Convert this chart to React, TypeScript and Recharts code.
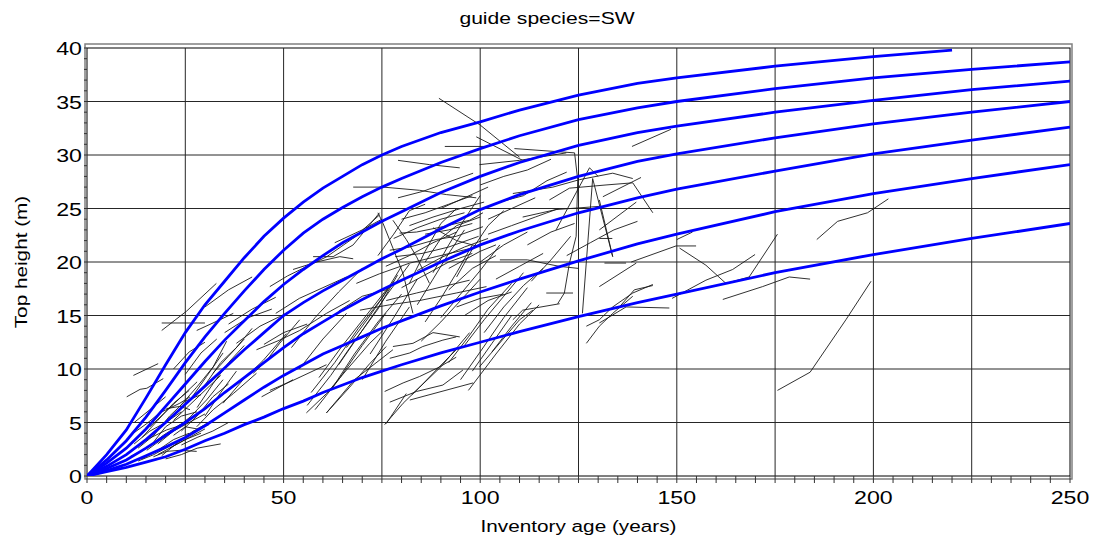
import React from "react";
import { LineChart, Line, XAxis, YAxis, ReferenceLine, ReferenceArea } from "recharts";

// guide curve ages (years)
const curveAges = [0, 5, 10, 15, 20, 25, 30, 35, 40, 45, 50, 55, 60, 65, 70, 75, 80, 90, 100, 110, 125, 140, 150, 175, 200, 225, 250];
const topCurveAges = [0, 5, 10, 15, 20, 25, 30, 35, 40, 45, 50, 55, 60, 65, 70, 75, 80, 90, 100, 110, 125, 140, 150, 175, 200, 220];

// guide curve heights (m), highest site first
const site1 = [0, 2.0, 4.3, 7.3, 10.4, 13.4, 16.0, 18.2, 20.4, 22.4, 24.1, 25.6, 26.9, 28.0, 29.1, 30.0, 30.8, 32.1, 33.1, 34.2, 35.6, 36.7, 37.2, 38.3, 39.2, 39.8];
const site2 = [0, 1.5, 3.3, 5.5, 8.0, 10.6, 13.0, 15.2, 17.3, 19.3, 21.1, 22.7, 24.0, 25.1, 26.1, 27.0, 27.8, 29.3, 30.6, 31.8, 33.3, 34.4, 35.0, 36.2, 37.2, 38.0, 38.7];
const site3 = [0, 1.2, 2.6, 4.4, 6.5, 8.6, 10.7, 12.7, 14.5, 16.3, 17.9, 19.3, 20.6, 21.8, 22.8, 23.8, 24.7, 26.5, 28.0, 29.3, 30.9, 32.1, 32.7, 34.0, 35.1, 36.1, 36.9];
const site4 = [0, 0.9, 2.0, 3.4, 5.0, 6.7, 8.4, 10.1, 11.8, 13.4, 15.0, 16.2, 17.3, 18.3, 19.3, 20.3, 21.2, 23.1, 24.9, 26.3, 28.0, 29.4, 30.1, 31.6, 32.9, 34.0, 35.0];
const site5 = [0, 0.7, 1.5, 2.6, 3.8, 5.0, 6.3, 7.8, 9.2, 10.6, 12.0, 13.3, 14.4, 15.5, 16.5, 17.4, 18.3, 20.0, 21.6, 22.9, 24.6, 26.0, 26.8, 28.5, 30.1, 31.4, 32.6];
const site6 = [0, 0.5, 1.1, 1.9, 2.7, 3.6, 4.7, 5.9, 7.1, 8.3, 9.4, 10.4, 11.4, 12.2, 13.0, 13.8, 14.5, 15.9, 17.2, 18.4, 20.1, 21.7, 22.6, 24.7, 26.4, 27.8, 29.1];
const site7 = [0, 0.4, 0.8, 1.3, 1.8, 2.5, 3.3, 4.0, 4.8, 5.5, 6.3, 7.0, 7.8, 8.5, 9.2, 9.8, 10.4, 11.5, 12.5, 13.5, 14.9, 16.2, 17.0, 19.0, 20.7, 22.2, 23.6];

// remeasured plots: [age, top height]
const youngPlots = [
  [[10.9, 2.3], [15.2, 3.4], [20.2, 4.3], [25.3, 4.9]],
  [[10.9, 1.8], [15.2, 2.6], [19.4, 3.8], [23.6, 4.8]],
  [[11.8, 4.0], [15.2, 4.9], [18.5, 5.9], [23.6, 6.8], [26.2, 7.4]],
  [[20.2, 6.3], [23.6, 6.5], [26.2, 6.2]],
  [[15.2, 2.4], [21.1, 4.0], [26.2, 5.5], [30.4, 7.1], [34.6, 9.0]],
  [[26.2, 7.1], [30.4, 9.3], [34.6, 11.5]],
  [[23.6, 6.5], [27.9, 8.3], [32.1, 10.2], [35.5, 12.6]],
  [[16.9, 1.8], [20.2, 2.3], [23.6, 2.4], [27.9, 2.3]],
  [[12, 3.0], [16, 4.2], [20, 5.0], [24, 6.0]],
  [[14, 1.6], [18, 2.4], [22, 3.4], [26, 4.0]],
  [[17, 3.2], [20, 4.6], [24, 5.6], [28, 6.0]],
  [[18, 2.0], [22, 2.8], [26, 3.6], [30, 4.4]],
  [[20, 1.6], [24, 2.0], [28, 2.6], [34, 3.0]],
  [[22, 3.8], [25, 4.6], [28, 4.4], [32, 5.2]],
  [[13, 2.6], [17, 3.8], [21, 5.6], [25, 7.0], [29, 7.6]],
  [[10.1, 7.4], [13.5, 8.1], [15.2, 8.2], [19.4, 9.1]],
  [[11.8, 9.4], [18.1, 10.5]],
  [[19, 13.6], [25.3, 15.4], [32.9, 18.0]],
  [[19, 14.3], [30, 14.3]],
  [[27.9, 13.6], [33.8, 14.6], [37.2, 15.2]],
  [[27.9, 4.6], [32.1, 6.2], [37.2, 7.7], [43.1, 9.6]],
  [[34.6, 6.8], [39.7, 9.0], [44.8, 10.8], [50.7, 13.3]],
  [[38, 12.4], [44, 14.0], [49, 14.9], [52.4, 15.5]],
  [[44.4, 7.4], [52.4, 9.0]],
  [[42.3, 9.6], [45.7, 10.8], [49, 12.4], [54.1, 14.6]],
  [[30, 8.5], [34, 10.6], [38, 12.0], [42, 13.8]],
  [[25, 9.5], [29, 11.5], [33, 12.8]],
  [[22, 10.0], [26, 11.6], [30, 12.5]],
  [[24, 2.9], [28, 3.6], [32, 4.2], [36, 5.0]],
  [[12, 5.0], [16, 6.2], [20, 7.4]],
  [[14, 3.6], [18, 5.2], [22, 6.8], [26, 8.0]],
  [[16, 4.6], [20, 6.0], [24, 7.4], [28, 8.8]],
  [[18, 3.0], [22, 4.2], [26, 5.0], [30, 5.8]],
  [[19, 1.9], [23, 3.1], [27, 4.2], [31, 4.8]],
  [[21, 2.6], [25, 3.4], [29, 4.0]],
  [[13, 1.4], [17, 2.0], [21, 2.8]],
  [[22, 5.2], [26, 6.6], [30, 8.0], [34, 9.4]],
  [[24, 4.2], [28, 5.6], [32, 7.4], [36, 8.6]],
  [[28, 6.4], [32, 8.6], [36, 10.6], [40, 12.2]],
  [[30, 5.6], [34, 7.8], [38, 9.8]],
  [[32, 9.6], [36, 11.2], [40, 12.8]],
  [[30, 15.8], [36, 17.4], [42, 18.6]],
  [[35, 13.4], [41, 14.8], [47, 15.6]],
];

const midPlots = [
  [[46.5, 8.0], [51.6, 8.8], [60.9, 10.4]],
  [[43.1, 11.8], [49, 12.7], [54.1, 13.6], [60.9, 15.2], [66.8, 16.4]],
  [[52.4, 19.3], [58.4, 20.0], [64.3, 20.5], [67.7, 20.3]],
  [[57.5, 20.5], [62.6, 20.5], [67.7, 21.6], [74.4, 24.6]],
  [[46.5, 17.7], [51, 18.7], [56, 19.6], [61, 20.5], [68, 22.3], [74.4, 24.4]],
  [[74, 24.6], [75.3, 23.6], [77.8, 21.3], [80.4, 18.9], [82.9, 15.2]],
  [[55.8, 5.9], [60.9, 7.7], [66, 9.9], [71.9, 12.4], [75.3, 13.6]],
  [[60.9, 5.9], [66.8, 8.3], [71.9, 10.5], [76.1, 12.1]],
  [[56, 6.6], [62, 9.4], [68, 12.6], [74, 15.6], [79, 18.8]],
  [[57, 7.8], [63, 10.6], [69, 13.8], [75, 16.6], [80, 19.6]],
  [[59, 9.2], [65, 12.2], [71, 15.0], [77, 17.8]],
  [[60.9, 5.9], [68, 9.0], [77.8, 11.8]],
  [[76.1, 4.9], [81.2, 7.7]],
  [[48, 15.2], [54, 16.6], [60, 17.6], [66, 18.6]],
  [[45, 12.3], [50, 13.4], [56, 14.2]],
  [[36, 14.2], [42, 15.6], [48, 16.7]],
  [[64, 15.4], [70, 16.8], [76, 17.4]],
  [[68.5, 18.0], [74.4, 18.9]],
  [[63, 21.8], [70, 23.0], [75, 24.0]],
  [[67.7, 27.0], [75.3, 27.0], [84.6, 26.7], [91.4, 26.3], [99, 26.0]],
  [[79.5, 22.7], [83.8, 22.8], [90.5, 23.3], [97.3, 23.9], [100.7, 24.6]],
  [[77, 21.1], [82.1, 21.4], [88.8, 22.1], [93.9, 22.4], [100.7, 23.3]],
  [[78.4, 20.5], [85.2, 20.8], [92, 21.4], [99.6, 22.4]],
  [[74.4, 18.9], [82.1, 19.9], [88.8, 20.5], [99, 21.4]],
  [[76.1, 16.4], [83.8, 17.1], [90.5, 17.7], [97.3, 18.3]],
  [[69.4, 15.5], [77, 16.0], [84.6, 16.4], [93.9, 17.1], [101.6, 17.7]],
  [[75.7, 7.9], [80.4, 8.7], [84.6, 9.3], [89.7, 10.2], [93.9, 11.1]],
  [[77, 11.0], [82.1, 11.5], [85.4, 12.1], [90.5, 12.7], [93.9, 13.0]],
  [[77.8, 12.1], [82.9, 12.4], [88, 13.4], [94.8, 13.0]],
  [[82.1, 7.1], [98.2, 8.7]],
  [[77, 6.9], [83.8, 7.9], [90.5, 8.5], [95.6, 9.9]],
  [[75.7, 4.8], [80.4, 6.8], [84.6, 8.3], [88.8, 9.9], [93.9, 11.8]],
  [[79.1, 29.5], [87.1, 29.1], [94.8, 28.8]],
  [[79.1, 26.0], [85.4, 26.6], [91.4, 27.4], [98.2, 28.3]],
  [[89.5, 35.3], [100, 32.8], [110, 29.8]],
  [[91, 30.8], [102, 30.8]],
  [[77.8, 23.9], [81.2, 22.1], [83.8, 20.5], [87.1, 18.0]],
  [[80, 24.0], [86, 24.6], [92, 25.4], [98, 26.2]],
  [[82, 23.4], [88, 24.2], [95, 25.0], [101, 25.6]],
  [[84, 19.2], [90, 20.4], [96, 21.4], [102, 22.2]],
  [[86, 22.6], [92, 23.0], [98, 23.6]],
  [[88, 19.0], [92, 21.6], [96, 24.0], [100, 26.2]],
  [[90, 14.8], [95, 17.0], [100, 19.2], [105, 21.6]],
  [[85, 12.6], [90, 14.4], [95, 16.4], [100, 18.4]],
  [[92, 10.6], [97, 13.0], [102, 15.6], [108, 18.0]],
  [[95, 9.0], [100, 11.6], [106, 14.8], [112, 17.6]],
  [[99.8, 10.2], [110, 14.6], [113.4, 15.5]],
  [[82.6, 7.6], [90, 10.2], [97.3, 13.4]],
  [[96, 15.0], [102, 16.4], [108, 17.2]],
  [[74, 20.6], [78, 22.6], [82, 24.8], [86, 25.4]],
  [[86, 20.0], [90, 22.2], [94, 23.4], [100, 24.2]],
  [[92, 19.4], [96, 20.2], [100, 21.0], [104, 21.6]],
  [[94, 15.8], [100, 16.6], [106, 17.0]],
  [[58, 6.2], [64, 9.0], [70, 12.2], [76, 15.2]],
  [[62, 8.0], [68, 11.4], [74, 14.4], [80, 17.0]],
  [[64, 10.4], [70, 13.6], [76, 16.8], [82, 19.8]],
  [[66, 12.0], [72, 15.0], [78, 18.2]],
  [[52, 12.0], [58, 14.8], [64, 17.2], [70, 19.4]],
  [[54, 10.0], [60, 12.8], [66, 15.2]],
  [[70, 9.0], [76, 12.6], [82, 15.8]],
  [[72, 11.4], [78, 14.8], [84, 18.4]],
  [[76, 19.6], [82, 20.6], [88, 21.8], [94, 22.8]],
  [[78, 22.2], [84, 23.2], [90, 24.0], [96, 24.6]],
  [[80, 17.6], [86, 18.8], [92, 20.0], [98, 20.8]],
  [[82, 18.0], [86, 21.0], [90, 23.6], [94, 25.0]],
  [[84, 16.0], [88, 18.4], [92, 20.8], [96, 23.0]],
  [[86, 14.4], [90, 16.6], [94, 19.0], [98, 21.6]],
  [[88, 23.2], [94, 22.0], [100, 21.4]],
  [[90, 25.0], [96, 26.0], [102, 27.0]],
  [[92, 17.4], [98, 19.4], [104, 20.6]],
  [[94, 18.6], [98, 21.2], [102, 23.4], [106, 24.8]],
  [[96, 12.2], [101, 14.6], [106, 16.8], [111, 19.0]],
  [[98, 9.8], [103, 12.4], [108, 15.0]],
  [[97, 8.0], [104, 11.4], [110, 14.2], [115, 16.0]],
];

const oldPlots = [
  [[99, 31.7], [110.8, 29.5]],
  [[99.8, 29.1], [110, 29.5], [121.9, 30.2]],
  [[108.7, 30.6], [124, 30.2], [124.8, 27.7], [124.4, 22.4], [122.7, 19.9], [121.4, 17.1], [119.7, 16.1]],
  [[108.3, 14.6], [110.8, 15.5], [120.2, 16.1]],
  [[126, 15.2], [128.6, 27.8], [133.7, 20.5]],
  [[119.3, 23.0], [127.8, 28.8], [130, 28.0]],
  [[117.6, 25.8], [122.7, 26.9], [132, 27.2], [138.8, 27.4], [143.9, 24.6]],
  [[138.6, 30.8], [148.5, 32.4]],
  [[108.3, 26.4], [118.5, 27.0], [125.3, 27.7], [133.7, 28.3], [138.8, 27.8]],
  [[110.8, 24.2], [119.3, 24.9], [130.3, 25.2]],
  [[105, 20.2], [112, 20.2], [120, 19.6], [125, 19.4]],
  [[131.6, 19.9], [137.1, 19.9]],
  [[116.8, 17.1], [123.6, 17.1]],
  [[127, 14.0], [130.3, 14.6], [133.7, 15.8], [138.8, 17.1], [143.9, 17.9]],
  [[127, 12.4], [130.3, 14.0], [133.7, 15.2], [138.8, 16.8]],
  [[137.1, 15.8], [148.1, 15.7]],
  [[130.3, 14.3], [137.1, 15.8]],
  [[135.4, 15.8], [139.2, 17.4], [143.9, 17.8]],
  [[130.3, 17.7], [139.7, 19.9]],
  [[130.3, 23.0], [139.7, 25.6]],
  [[130.3, 22.2], [133.6, 22.2]],
  [[130.3, 25.8], [133.7, 20.5]],
  [[131.2, 26.1], [140.9, 27.9]],
  [[138.4, 20.0], [149.8, 21.5], [154.9, 21.5]],
  [[150, 22.1], [154, 22.8]],
  [[102, 22.6], [108, 23.4], [114, 24.2], [120, 25.0]],
  [[104, 18.4], [110, 19.6], [116, 20.8]],
  [[100, 27.2], [106, 28.0], [112, 28.6], [118, 29.6]],
  [[105, 25.6], [111, 26.2], [117, 27.6], [122, 28.4]],
  [[112, 21.6], [118, 22.8], [124, 23.6]],
  [[113, 18.2], [118, 20.2], [123, 22.4]],
  [[101, 13.4], [106, 15.8], [111, 17.8], [116, 19.4]],
  [[103, 11.6], [108, 14.0], [113, 16.2]],
  [[122, 20.6], [128, 21.8], [134, 23.0], [140, 23.8]],
  [[100, 20.0], [106, 21.6], [112, 22.8]],
  [[102, 24.0], [108, 25.0], [114, 26.0]],
  [[185.6, 22.1], [190.9, 23.8], [198.5, 24.6], [203.8, 25.9]],
  [[161.7, 16.5], [171.8, 17.7], [178.6, 18.6], [183.9, 18.4]],
  [[175.6, 8.0], [183.9, 9.7], [193, 14.6], [199.4, 18.2]],
  [[148.8, 16.6], [157.4, 18.3], [164.2, 19.3], [169.9, 20.7]],
  [[150.7, 21.3], [157.4, 19.7], [162.5, 18.0], [168.4, 18.6], [175.6, 22.6]],
];

const xTicks = Array.from({ length: 51 }, (_, i) => i * 5);
const yTicks = Array.from({ length: 41 }, (_, i) => i);
const xGrid = [25, 50, 75, 100, 125, 150, 175, 200, 225];
const yGrid = [5, 10, 15, 20, 25, 30, 35];

const FONT = "'Liberation Sans', Arial, sans-serif";
const STRETCH = 1.22;

const toPoints = (ages: number[], heights: number[]) => ages.map((age, i) => ({ age, height: heights[i] }));
const guideCurves = [
  toPoints(topCurveAges, site1),
  toPoints(curveAges, site2),
  toPoints(curveAges, site3),
  toPoints(curveAges, site4),
  toPoints(curveAges, site5),
  toPoints(curveAges, site6),
  toPoints(curveAges, site7),
];
const plots = [...youngPlots, ...midPlots, ...oldPlots].map((seg) => seg.map(([age, height]) => ({ age, height })));

const XTick = ({ x, y, payload }: any) =>
  payload.value % 50 === 0 ? (
    <text transform={`translate(${x},${y + 19}) scale(${STRETCH},1)`} textAnchor="middle" fontSize={19} fontFamily={FONT} fill="#000">
      {payload.value}
    </text>
  ) : null;

const YTick = ({ x, y, payload }: any) =>
  payload.value % 5 === 0 ? (
    <text transform={`translate(${x},${y + 7}) scale(${STRETCH},1)`} textAnchor="end" fontSize={19} fontFamily={FONT} fill="#000">
      {payload.value}
    </text>
  ) : null;

const FrameShape = ({ x, y, width, height }: any) => (
  <g>
    <rect x={x - 2} y={y - 4} width={width + 4} height={height + 7} fill="none" stroke="#808080" strokeWidth={1.5} />
    <rect x={x} y={y} width={width} height={height} fill="none" stroke="#000" strokeWidth={1} />
  </g>
);

export default function App() {
  return (
    <div style={{ position: "absolute", left: 0, top: 0, width: 1094, height: 541, background: "#fff" }}>
      <div
        style={{
          position: "absolute",
          left: 0,
          width: 1094,
          top: 9,
          textAlign: "center",
          fontFamily: FONT,
          fontSize: 17,
          transform: `scaleX(1.24)`,
          color: "#000",
        }}
      >
        guide species=SW
      </div>
      <LineChart width={1094} height={541} margin={{ top: 48, right: 24, left: 0, bottom: 0 }}>
        <XAxis
          dataKey="age"
          type="number"
          domain={[0, 250]}
          ticks={xTicks}
          interval={0}
          allowDataOverflow
          axisLine={false}
          tickLine={{ stroke: "#333" }}
          tickSize={7}
          tick={<XTick />}
          height={65}
          label={{
            content: ({ viewBox }: any) => (
              <text
                transform={`translate(${viewBox.x + viewBox.width / 2},${viewBox.y + 56}) scale(${STRETCH},1)`}
                textAnchor="middle"
                fontSize={17}
                fontFamily={FONT}
                fill="#000"
              >
                Inventory age (years)
              </text>
            ),
          }}
        />
        <YAxis
          type="number"
          domain={[0, 40]}
          ticks={yTicks}
          interval={0}
          allowDataOverflow
          axisLine={false}
          tickLine={{ stroke: "#333" }}
          tickSize={3}
          tick={<YTick />}
          width={87}
          label={{
            content: ({ viewBox }: any) => (
              <text
                transform={`translate(27,${viewBox.y + viewBox.height / 2}) rotate(-90) scale(${STRETCH},1)`}
                textAnchor="middle"
                fontSize={17}
                fontFamily={FONT}
                fill="#000"
              >
                Top height (m)
              </text>
            ),
          }}
        />
        {xGrid.map((a) => (
          <ReferenceLine key={`gx${a}`} x={a} stroke="#262626" strokeWidth={1} />
        ))}
        {yGrid.map((h) => (
          <ReferenceLine key={`gy${h}`} y={h} stroke="#262626" strokeWidth={1} />
        ))}
        <ReferenceArea x1={0} x2={250} y1={0} y2={40} shape={<FrameShape />} />
        {plots.map((pts, i) => (
          <Line
            key={`p${i}`}
            data={pts}
            dataKey="height"
            type="linear"
            stroke="#1a1a1a"
            strokeWidth={0.9}
            dot={false}
            activeDot={false}
            isAnimationActive={false}
          />
        ))}
        {guideCurves.map((pts, i) => (
          <Line
            key={`g${i}`}
            data={pts}
            dataKey="height"
            type="linear"
            stroke="#0000ff"
            strokeWidth={2.8}
            dot={false}
            activeDot={false}
            isAnimationActive={false}
          />
        ))}
      </LineChart>
    </div>
  );
}
